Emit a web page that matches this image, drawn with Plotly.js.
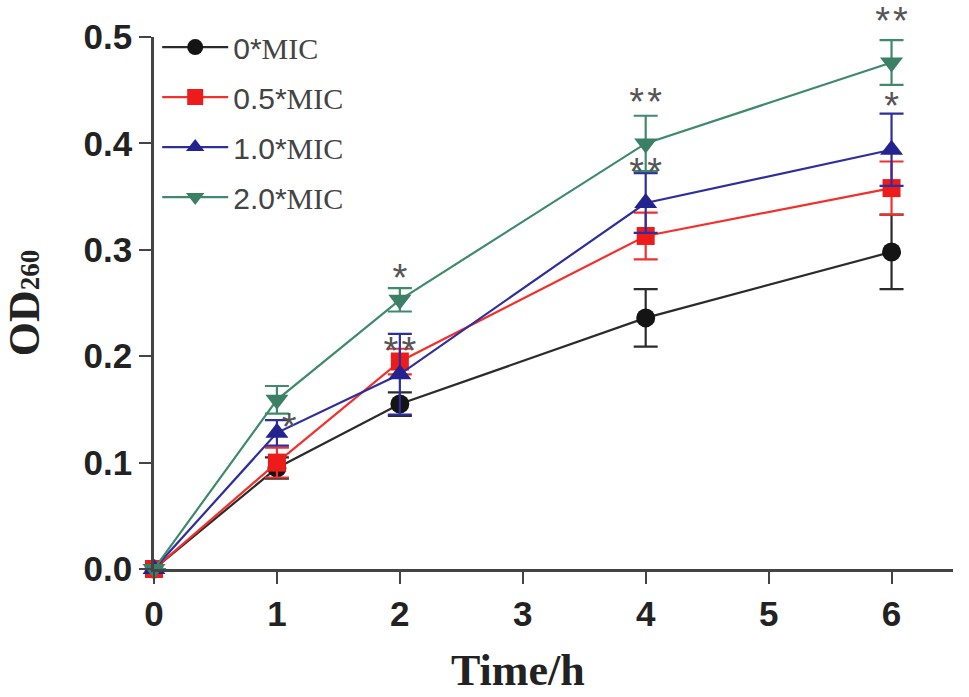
<!DOCTYPE html>
<html>
<head>
<meta charset="utf-8">
<script src="https://cdn.plot.ly/plotly-3.0.1.min.js"></script>
<style>
  html, body {margin: 0; padding: 0; background: #fff;}
  #plot {width: 969px; height: 697px;}
</style>
</head>
<body>
<div id="plot"></div>
<script>
// time points (h)
let timePoints = [0, 1, 2, 4, 6];

// OD260 means and error (SD) per concentration
let seriesNames = ['0*MIC', '0.5*MIC', '1.0*MIC', '2.0*MIC'];
let mic0 = [0, 0.095, 0.155, 0.236, 0.298];
let mic0Err = [0, 0.010, 0.011, 0.027, 0.035];
let mic05 = [0, 0.100, 0.195, 0.313, 0.358];
let mic05Err = [0, 0.014, 0.012, 0.022, 0.025];
let mic10 = [0, 0.128, 0.183, 0.344, 0.394];
let mic10Err = [0, 0.012, 0.038, 0.028, 0.034];
let mic20 = [0, 0.159, 0.253, 0.400, 0.476];
let mic20Err = [0, 0.013, 0.011, 0.026, 0.021];

// significance marks: x, y, label
// the last one sits on top of the 2.0*MIC error bar at 6 h
let sigX = [1.1, 2, 2, 4, 4, 6, 6];
let sigY = [0.130, 0.270, 0.202, 0.370, 0.436, 0.432, 0.494];
let sigText = ['*', '*', '*\u200a*', '*\u200a*', '*\u200a*', '*', '*\u200a*'];
let sigPos = ['middle center', 'middle center', 'middle center', 'middle center',
    'middle center', 'middle center', 'top center'];

let lineColors = ['#2b2b2b', '#f2302c', '#2e2e9c', '#3f8a6c'];
let markerColors = ['#141414', '#ee1b1b', '#23238f', '#3b7f64'];
let markerSymbols = ['circle', 'square', 'triangle-up', 'triangle-down'];
let markerSizes = [19, 18, 20, 20];

/**
 * Builds a legend label with the number in sans and "MIC" in serif
 * @param name series name
 * @returns {string}
 */
function legendLabel(name) {
    let parts = name.split('MIC');
    return parts[0] + '<span style="font-family:\'Liberation Serif\'">MIC</span>';
}

let values = [mic0, mic05, mic10, mic20];
let errors = [mic0Err, mic05Err, mic10Err, mic20Err];
let plotData = [];

for (let i = 0; i < values.length; i++) {
    plotData.push({
        x: timePoints,
        y: values[i],
        name: legendLabel(seriesNames[i]),
        legendgroup: 'g' + i,
        type: 'scatter',
        mode: 'lines+markers',
        cliponaxis: false,
        line: {color: lineColors[i], width: 2.2},
        marker: {symbol: markerSymbols[i], size: markerSizes[i], color: markerColors[i]},
        error_y: {type: 'data', array: errors[i], visible: true,
            color: lineColors[i], thickness: 2.2, width: 12}
    });
}

plotData.push({
    x: sigX,
    y: sigY,
    text: sigText,
    textposition: sigPos,
    type: 'scatter',
    mode: 'text',
    cliponaxis: false,
    showlegend: false,
    hoverinfo: 'skip',
    textfont: {family: 'Liberation Sans', size: 38, color: '#555'}
});

let layout = {
    width: 969,
    height: 697,
    margin: {l: 154, r: 16, t: 37, b: 128},
    paper_bgcolor: '#fff',
    plot_bgcolor: '#fff',
    showlegend: true,
    legend: {
        x: 0.004, y: 1.03, xanchor: 'left', yanchor: 'top',
        bgcolor: 'rgba(0,0,0,0)',
        font: {family: 'Liberation Sans', size: 30, color: '#444'},
        itemwidth: 66,
        tracegroupgap: 8
    },
    xaxis: {
        range: [0, 6.5],
        tickvals: [0, 1, 2, 3, 4, 5, 6],
        ticks: 'outside', ticklen: 12, tickwidth: 2, tickcolor: '#444',
        showline: true, linecolor: '#444', linewidth: 2.5,
        showgrid: false, zeroline: false,
        tickfont: {family: 'Liberation Sans', size: 35, color: '#222', weight: 'bold'}
    },
    yaxis: {
        range: [0, 0.5],
        tickvals: [0, 0.1, 0.2, 0.3, 0.4, 0.5],
        tickformat: '.1f',
        ticks: 'outside', ticklen: 12, tickwidth: 2, tickcolor: '#444',
        showline: true, linecolor: '#444', linewidth: 2.5,
        showgrid: false, zeroline: false,
        tickfont: {family: 'Liberation Sans', size: 35, color: '#222', weight: 'bold'},
        title: {text: 'OD<span style="font-size:27px">260</span>', standoff: 32,
            font: {family: 'Liberation Serif', size: 44, color: '#222', weight: 'bold'}}
    },
    // x axis title sits a bit left of the plot centre in the original
    annotations: [{
        text: 'Time/h',
        xref: 'paper', yref: 'paper',
        x: 0.4556, y: -0.19,
        xanchor: 'center', yanchor: 'middle',
        showarrow: false,
        font: {family: 'Liberation Serif', size: 44, color: '#222', weight: 'bold'}
    }]
};

Plotly.newPlot('plot', plotData, layout, {displayModeBar: false});
</script>
</body>
</html>
